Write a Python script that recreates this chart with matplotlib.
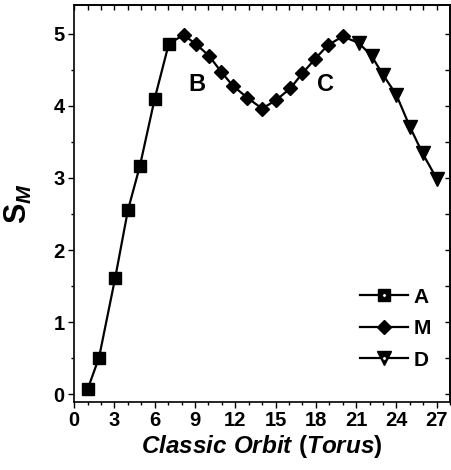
import matplotlib
matplotlib.use("Agg")
import matplotlib.pyplot as plt
from matplotlib.lines import Line2D
from matplotlib.legend_handler import HandlerTuple
from matplotlib.ticker import MultipleLocator

plt.rcParams['font.family'] = ['Liberation Sans', 'DejaVu Sans']
plt.rcParams['font.weight'] = 'bold'
plt.rcParams['mathtext.fontset'] = 'custom'
plt.rcParams['mathtext.rm'] = 'Liberation Sans:bold'
plt.rcParams['mathtext.it'] = 'Liberation Sans:bold:italic'
plt.rcParams['mathtext.bf'] = 'Liberation Sans:bold'

# Data
a_x = [1.0, 1.85, 3.05, 4.0, 4.9, 6.0, 7.05]
a_y = [0.07, 0.51, 1.61, 2.55, 3.17, 4.10, 4.86]
m_x = [8.15, 9.1, 10.05, 10.95, 11.8, 12.9, 14.0, 15.05, 16.1, 17.0, 17.95, 18.9, 20.0]
m_y = [4.98, 4.85, 4.69, 4.47, 4.28, 4.11, 3.96, 4.08, 4.24, 4.45, 4.65, 4.84, 4.96]
d_x = [21.2, 22.15, 23.0, 24.0, 25.0, 25.95, 27.0]
d_y = [4.87, 4.69, 4.43, 4.15, 3.71, 3.34, 2.99]
labels = ['A', 'M', 'D']
annot_text = ['B', 'C']
annot_x = [9.15, 18.75]
annot_y = [4.30, 4.30]

fig = plt.figure(figsize=(4.51, 4.70), dpi=100)
ax = fig.add_axes([0.163, 0.144, 0.835, 0.846])

all_x = a_x + m_x + d_x
all_y = a_y + m_y + d_y
ax.plot(all_x, all_y, color='black', lw=1.6, zorder=2)
ax.plot(a_x, a_y, ls='none', marker='s', ms=8.9, color='black', zorder=3)
ax.plot(m_x, m_y, ls='none', marker='D', ms=7.2, color='black', zorder=3)
ax.plot(d_x, d_y, ls='none', marker='v', ms=9.5, color='black', zorder=3)

for t, x, y in zip(annot_text, annot_x, annot_y):
    ax.text(x, y, t, fontsize=17, fontweight='bold', ha='center', va='center')

ax.set_xlim(-0.05, 28)
ax.set_ylim(-0.11, 5.4)
ax.xaxis.set_major_locator(MultipleLocator(3))
ax.xaxis.set_minor_locator(MultipleLocator(1))
ax.yaxis.set_major_locator(MultipleLocator(1))
ax.yaxis.set_minor_locator(MultipleLocator(0.5))

ax.tick_params(which='both', direction='out', width=1.0, top=False, right=False)
ax.tick_params(which='major', length=4.5, labelsize=14.5, pad=2)
ax.tick_params(which='minor', length=2.5)
ax2 = ax.secondary_xaxis('top')
ax2.xaxis.set_major_locator(MultipleLocator(1))
ax2.tick_params(direction='in', length=3.5, width=1.0, labeltop=False)
ax3 = ax.secondary_yaxis('right')
ax3.yaxis.set_major_locator(MultipleLocator(0.5))
ax3.tick_params(direction='in', length=3.5, width=1.0, labelright=False)

for lab in ax.get_xticklabels() + ax.get_yticklabels():
    lab.set_fontweight('bold')
for s in ax.spines.values():
    s.set_linewidth(1.2)
for s in list(ax2.spines.values()) + list(ax3.spines.values()):
    s.set_linewidth(1.2)

ax.set_xlabel(r'$Classic\ Orbit\ (Torus)$', fontsize=17.5, labelpad=2)
ax.set_ylabel(r'$\mathrm{S}_{M}$', fontsize=22)
ax.yaxis.set_label_coords(-0.105, 0.5)

def mk(marker, ms, inner):
    main = Line2D([], [], color='black', lw=1.6, marker=marker, ms=ms)
    if inner:
        dot = Line2D([], [], ls='none', marker='o', ms=2.6, mfc='white', mec='black', mew=0.5)
        return (main, dot)
    return main

handles = [mk('s', 8.9, True), mk('D', 7.2, False), mk('v', 9.5, True)]
ax.legend(handles, labels, loc='lower right', bbox_to_anchor=(1.0, 0.035), frameon=False,
          fontsize=15, handlelength=2.3, handletextpad=0.3, labelspacing=0.6,
          handler_map={tuple: HandlerTuple(ndivide=1)})

fig.savefig('out.png', dpi=100)
